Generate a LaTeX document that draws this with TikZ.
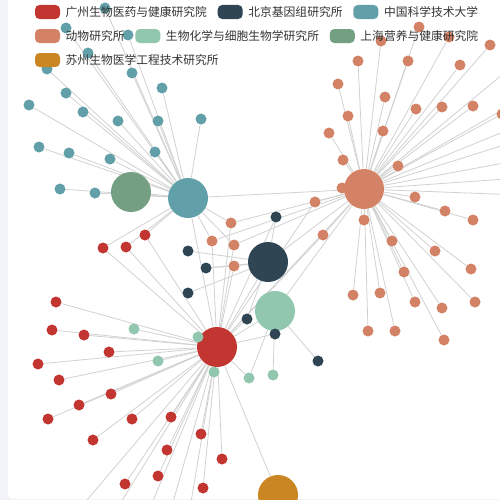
\documentclass[tikz,border=0pt]{standalone}
\usepackage{fontspec}
\setmainfont{Noto Sans CJK SC}
\usepackage{xcolor}
\usetikzlibrary{positioning}

\definecolor{cgz}{HTML}{C23531}
\definecolor{cbj}{HTML}{2F4554}
\definecolor{ckd}{HTML}{61A0A8}
\definecolor{cdw}{HTML}{D48265}
\definecolor{csh}{HTML}{91C7AE}
\definecolor{cyy}{HTML}{749F83}
\definecolor{csz}{HTML}{CA8622}
\definecolor{panelbg}{HTML}{F2F3F8}
\definecolor{legtxt}{HTML}{333333}

\pgfdeclarelayer{back}
\pgfdeclarelayer{edges}
\pgfsetlayers{back,edges,main}

\begin{document}
\begin{tikzpicture}[x=0.2mm, y=-0.2mm,
  dot/.style={circle, inner sep=0pt, minimum size=2.2mm, fill=#1},
  hub/.style={circle, inner sep=0pt, minimum size=8mm, fill=#1},
  edge/.style={draw=black!18, line width=0.45pt},
  legkey/.style={rectangle, rounded corners=0.9mm, inner sep=0pt, minimum width=5mm, minimum height=2.8mm, fill=#1},
  legtext/.style={inner sep=0pt, text=legtxt, font=\fontsize{6.7}{8}\selectfont}]
\useasboundingbox (0,0) rectangle (500,500);

% panel
\begin{pgfonlayer}{back}
\fill[panelbg] (0,0) rectangle (500,500);
\fill[white, rounded corners=1mm] (8,-20) rectangle (530,499);
\end{pgfonlayer}

% hubs
\node[hub=ckd] (ustc) at (188,198) {};
\node[hub=cyy] (sinh) at (131,192) {};
\node[hub=cdw] (ioz) at (364,189) {};
\node[hub=cbj] (big) at (268,262) {};
\node[hub=csh] (sibcb) at (275,311) {};
\node[hub=cgz] (gibh) at (217,347) {};
\node[hub=csz] (sibet) at (278,495) {};

% small nodes
\foreach \n/\x/\y in {t1/105/8, t2/66/28, t3/128/35, t4/88/53, t5/47/69, t6/132/73,
  t7/66/93, t8/162/88, t9/29/105, t10/83/112, t11/118/121, t12/158/121, t13/201/119,
  t14/39/147, t15/69/153, t16/110/159, t17/155/152, t18/60/189, t19/95/193}
  \node[dot=ckd] (\n) at (\x,\y) {};
\foreach \n/\x/\y in {o1/419/27, o2/381/41, o3/449/37, o4/490/45, o5/358/61, o6/408/61,
  o7/460/65, o8/338/84, o9/385/97, o10/416/109, o11/442/107, o12/473/106, o13/502/114,
  o14/348/116, o15/329/133, o16/383/131, o17/343/160, o18/398/166, o19/342/188,
  o20/315/202, o21/415/197, o22/364/220, o23/445/211, o24/473/220, o25/323/235,
  o26/392/241, o27/435/251, o28/471/269, o29/404/272, o30/353/295, o31/380/293,
  o32/415/302, o33/442/308, o34/475/302, o35/368/331, o36/395/331, o37/444/340,
  o38/231/223, o39/212/241, o40/234/245, o41/234/266}
  \node[dot=cdw] (\n) at (\x,\y) {};
\foreach \n/\x/\y in {d1/276/217, d2/188/251, d3/206/268, d4/188/293, d5/247/319,
  d6/275/334, d7/318/361}
  \node[dot=cbj] (\n) at (\x,\y) {};
\foreach \n/\x/\y in {g1/134/329, g2/198/337, g3/158/361, g4/214/372, g5/249/378, g6/273/375}
  \node[dot=csh] (\n) at (\x,\y) {};
\foreach \n/\x/\y in {r1/145/235, r2/126/247, r3/103/248, r4/56/302, r5/52/330, r6/84/335,
  r7/109/352, r8/38/364, r9/59/380, r10/111/394, r11/79/405, r12/48/419, r13/132/419,
  r14/171/417, r15/93/440, r16/201/434, r17/167/450, r18/222/459, r19/158/476,
  r20/125/484, r21/203/488}
  \node[dot=cgz] (\n) at (\x,\y) {};

% ends outside the frame
\foreach \n/\x/\y in {xr1/70/520, xr2/110/520, xr3/145/520, xr4/168/520, xr5/188/520,
  xo1/520/60, xo2/520/100, xo3/520/125, xo4/520/140, xo5/520/160, xo6/520/178, xo7/520/195}
  \coordinate (\n) at (\x,\y);

\begin{pgfonlayer}{edges}
\foreach \n in {t1,t2,t3,t4,t5,t6,t7,t8,t9,t10,t11,t12,t13,t14,t15,t16,t17,t18,t19,r1,r2,r3,o38,o39,o40,sinh,ioz,gibh}
  \draw[edge] (\n) -- (ustc);
\foreach \n in {o1,o2,o3,o4,o5,o6,o7,o8,o9,o10,o11,o12,o13,o14,o15,o16,o17,o18,o19,o20,
  o21,o22,o23,o24,o25,o26,o27,o28,o29,o30,o31,o32,o33,o34,o35,o36,o37,o38,o39,o40,
  xo1,xo2,xo3,xo4,xo5,xo6,xo7,big,sibcb,gibh}
  \draw[edge] (\n) -- (ioz);
\foreach \n in {r1,r2,r3,r4,r5,r6,r7,r8,r9,r10,r11,r12,r13,r14,r15,r16,r17,r18,r19,r20,r21,
  g1,g2,g3,g4,g5,d1,d5,d6,o20,o25,o38,o39,o40,o41,big,sibcb,sibet,xr1,xr2,xr3,xr4,xr5}
  \draw[edge] (\n) -- (gibh);
\foreach \n in {d1,d2,d3,d4,d5,o41}
  \draw[edge] (\n) -- (big);
\foreach \n in {g5,g6,d6,d7}
  \draw[edge] (\n) -- (sibcb);
\draw[edge] (d3) -- (o41);
\end{pgfonlayer}

% legend
\node[legkey=cgz] (k1) at (47.5,12) {};
\node[legtext, right=1mm of k1] (l1) {广州生物医药与健康研究院};
\node[legkey=cbj, right=2mm of l1] (k2) {};
\node[legtext, right=1mm of k2] (l2) {北京基因组研究所};
\node[legkey=ckd, right=2mm of l2] (k3) {};
\node[legtext, right=1mm of k3] (l3) {中国科学技术大学};
\node[legkey=cdw] (k4) at (47.5,36) {};
\node[legtext, right=1mm of k4] (l4) {动物研究所};
\node[legkey=csh, right=2mm of l4] (k5) {};
\node[legtext, right=1mm of k5] (l5) {生物化学与细胞生物学研究所};
\node[legkey=cyy, right=2mm of l5] (k6) {};
\node[legtext, right=1mm of k6] (l6) {上海营养与健康研究院};
\node[legkey=csz] (k7) at (47.5,60) {};
\node[legtext, right=1mm of k7] (l7) {苏州生物医学工程技术研究所};
\end{tikzpicture}
\end{document}
